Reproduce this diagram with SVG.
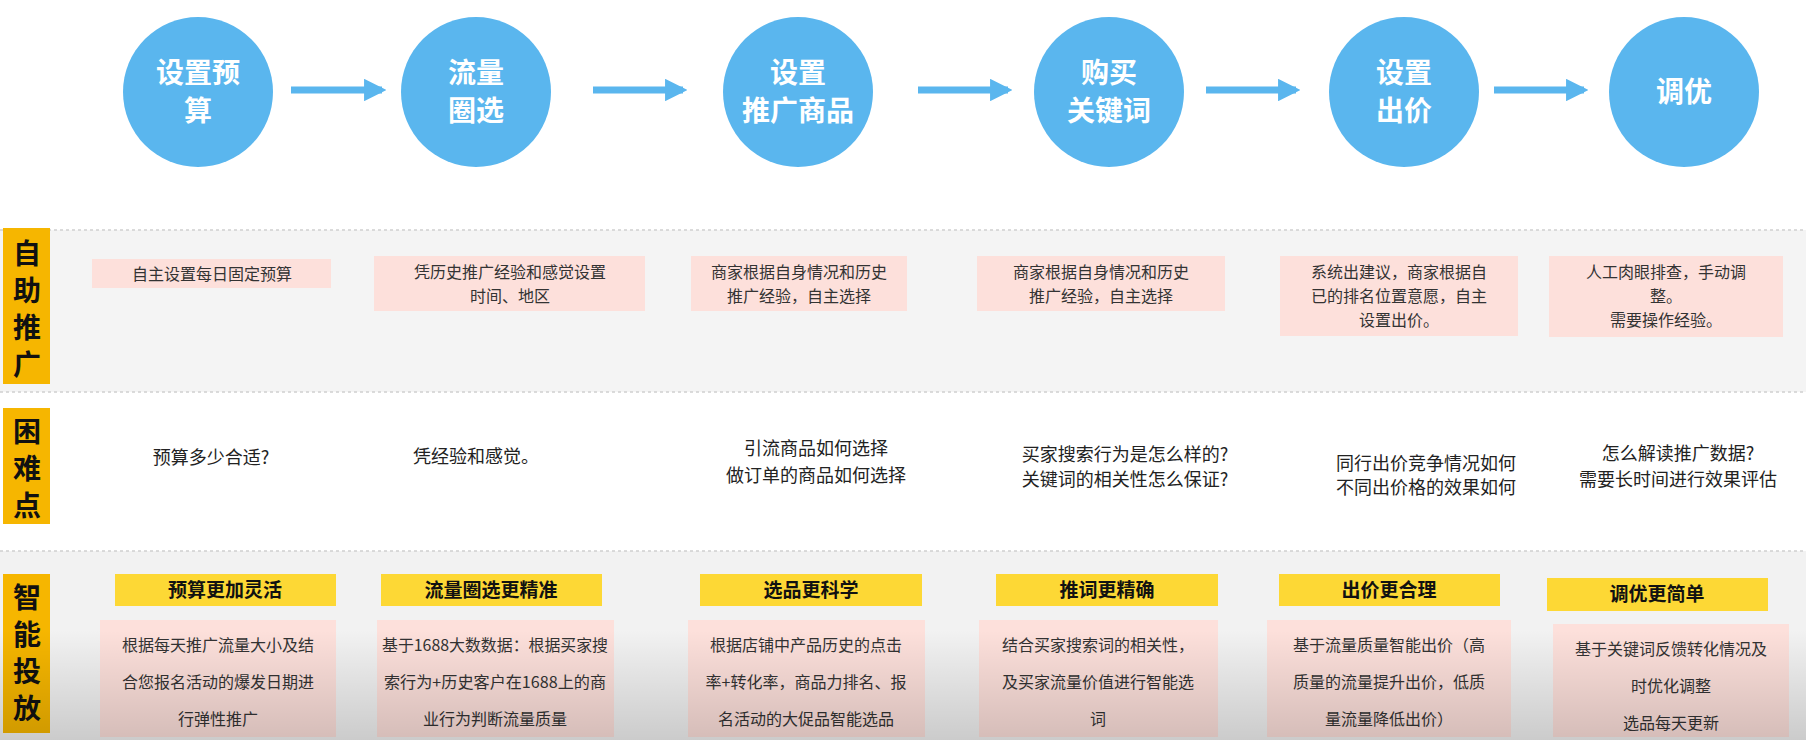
<svg xmlns="http://www.w3.org/2000/svg" width="1806" height="740" viewBox="0 0 1806 740">
<defs>
<marker id="ah" viewBox="0 0 10 10" refX="8" refY="5" markerWidth="3.2" markerHeight="3.2" orient="auto"><path d="M0,0 L10,5 L0,10 Z" fill="#5ab6ee"/></marker>
<linearGradient id="shade" x1="0" y1="0" x2="0" y2="1"><stop offset="0" stop-color="#000" stop-opacity="0"/><stop offset="1" stop-color="#000" stop-opacity="0.16"/></linearGradient>
<style>
text{font-family:"Noto Sans CJK SC","Liberation Sans",sans-serif;text-anchor:middle}
.c{fill:#5ab6ee}.ct{fill:#fff;font-size:28px;font-weight:bold}
.side{fill:#f6b600}.st{font-size:28px;font-weight:bold;fill:#111}
.pk{fill:#fde0db}.pt{font-size:16px;fill:#333}
.q{font-size:18px;fill:#222}
.yl{fill:#fdd835}.yt{font-size:19px;font-weight:bold;fill:#111}
.dash{stroke:#cfcfcf;stroke-width:1.5;stroke-dasharray:3 3}
.ar{stroke:#5ab6ee;stroke-width:7;marker-end:url(#ah)}
</style>
</defs>
<rect width="1806" height="740" fill="#fff"/>
<rect x="0" y="230" width="1806" height="162" fill="#f4f4f4"/>
<rect x="0" y="551" width="1806" height="189" fill="#f2f2f2"/>
<g class="dash"><line x1="0" y1="230" x2="1806" y2="230"/><line x1="0" y1="392" x2="1806" y2="392"/><line x1="0" y1="551" x2="1806" y2="551"/></g>

<g id="connectors">
<line class="ar" x1="291" y1="90" x2="382" y2="90"/>
<line class="ar" x1="593" y1="90" x2="683" y2="90"/>
<line class="ar" x1="918" y1="90" x2="1008" y2="90"/>
<line class="ar" x1="1206" y1="90" x2="1296" y2="90"/>
<line class="ar" x1="1494" y1="90" x2="1584" y2="90"/>
</g>

<g id="s1"><circle class="c" cx="198" cy="92" r="75"/><text class="ct" x="198" y="83">设置预</text><text class="ct" x="198" y="121">算</text></g>
<g id="s2"><circle class="c" cx="476" cy="92" r="75"/><text class="ct" x="476" y="83">流量</text><text class="ct" x="476" y="121">圈选</text></g>
<g id="s3"><circle class="c" cx="798" cy="92" r="75"/><text class="ct" x="798" y="83">设置</text><text class="ct" x="798" y="121">推广商品</text></g>
<g id="s4"><circle class="c" cx="1109" cy="92" r="75"/><text class="ct" x="1109" y="83">购买</text><text class="ct" x="1109" y="121">关键词</text></g>
<g id="s5"><circle class="c" cx="1404" cy="92" r="75"/><text class="ct" x="1404" y="83">设置</text><text class="ct" x="1404" y="121">出价</text></g>
<g id="s6"><circle class="c" cx="1684" cy="92" r="75"/><text class="ct" x="1684" y="102">调优</text></g>

<g id="side1"><rect class="side" x="3" y="228" width="47" height="156"/><text class="st" x="27" y="264">自</text><text class="st" x="27" y="301">助</text><text class="st" x="27" y="338">推</text><text class="st" x="27" y="375">广</text></g>
<g id="side2"><rect class="side" x="3" y="408" width="47" height="116"/><text class="st" x="27" y="442">困</text><text class="st" x="27" y="479">难</text><text class="st" x="27" y="516">点</text></g>
<g id="side3"><rect class="side" x="3" y="574" width="47" height="159"/><text class="st" x="27" y="608">智</text><text class="st" x="27" y="645">能</text><text class="st" x="27" y="682">投</text><text class="st" x="27" y="719">放</text></g>

<g id="r1c1"><rect class="pk" x="92" y="259" width="239" height="29"/><text class="pt" x="212" y="280">自主设置每日固定预算</text></g>
<g id="r1c2"><rect class="pk" x="374" y="256" width="271" height="55"/><text class="pt" x="510" y="278">凭历史推广经验和感觉设置</text><text class="pt" x="510" y="302">时间、地区</text></g>
<g id="r1c3"><rect class="pk" x="691" y="256" width="216" height="55"/><text class="pt" x="799" y="278">商家根据自身情况和历史</text><text class="pt" x="799" y="302">推广经验，自主选择</text></g>
<g id="r1c4"><rect class="pk" x="977" y="256" width="248" height="55"/><text class="pt" x="1101" y="278">商家根据自身情况和历史</text><text class="pt" x="1101" y="302">推广经验，自主选择</text></g>
<g id="r1c5"><rect class="pk" x="1280" y="256" width="238" height="80"/><text class="pt" x="1399" y="278">系统出建议，商家根据自</text><text class="pt" x="1399" y="302">已的排名位置意愿，自主</text><text class="pt" x="1399" y="326">设置出价。</text></g>
<g id="r1c6"><rect class="pk" x="1549" y="256" width="234" height="81"/><text class="pt" x="1666" y="278">人工肉眼排查，手动调</text><text class="pt" x="1666" y="302">整。</text><text class="pt" x="1666" y="326">需要操作经验。</text></g>

<g id="r2c1"><text class="q" x="211" y="464">预算多少合适?</text></g>
<g id="r2c2"><text class="q" x="476" y="463">凭经验和感觉。</text></g>
<g id="r2c3"><text class="q" x="816" y="455">引流商品如何选择</text><text class="q" x="816" y="482">做订单的商品如何选择</text></g>
<g id="r2c4"><text class="q" x="1125" y="461">买家搜索行为是怎么样的?</text><text class="q" x="1125" y="486">关键词的相关性怎么保证?</text></g>
<g id="r2c5"><text class="q" x="1426" y="470">同行出价竞争情况如何</text><text class="q" x="1426" y="494">不同出价格的效果如何</text></g>
<g id="r2c6"><text class="q" x="1678" y="460">怎么解读推广数据?</text><text class="q" x="1678" y="486">需要长时间进行效果评估</text></g>

<g id="r3c1"><rect class="yl" x="115" y="574" width="221" height="32"/><text class="yt" x="225" y="597">预算更加灵活</text><rect class="pk" x="100" y="620" width="236" height="117"/><text class="pt" x="218" y="651">根据每天推广流量大小及结</text><text class="pt" x="218" y="688">合您报名活动的爆发日期进</text><text class="pt" x="218" y="725">行弹性推广</text></g>
<g id="r3c2"><rect class="yl" x="381" y="574" width="221" height="32"/><text class="yt" x="491" y="597">流量圈选更精准</text><rect class="pk" x="377" y="620" width="237" height="117"/><text class="pt" x="495" y="651" textLength="226" lengthAdjust="spacingAndGlyphs">基于1688大数数据：根据买家搜</text><text class="pt" x="495" y="688" textLength="222" lengthAdjust="spacingAndGlyphs">索行为+历史客户在1688上的商</text><text class="pt" x="495" y="725">业行为判断流量质量</text></g>
<g id="r3c3"><rect class="yl" x="700" y="574" width="222" height="32"/><text class="yt" x="811" y="597">选品更科学</text><rect class="pk" x="688" y="620" width="237" height="117"/><text class="pt" x="806" y="651">根据店铺中产品历史的点击</text><text class="pt" x="806" y="688">率+转化率，商品力排名、报</text><text class="pt" x="806" y="725">名活动的大促品智能选品</text></g>
<g id="r3c4"><rect class="yl" x="996" y="574" width="222" height="32"/><text class="yt" x="1107" y="597">推词更精确</text><rect class="pk" x="979" y="620" width="239" height="117"/><text class="pt" x="1098" y="651">结合买家搜索词的相关性，</text><text class="pt" x="1098" y="688">及买家流量价值进行智能选</text><text class="pt" x="1098" y="725">词</text></g>
<g id="r3c5"><rect class="yl" x="1279" y="574" width="221" height="32"/><text class="yt" x="1389" y="597">出价更合理</text><rect class="pk" x="1267" y="620" width="244" height="117"/><text class="pt" x="1389" y="651">基于流量质量智能出价（高</text><text class="pt" x="1389" y="688">质量的流量提升出价，低质</text><text class="pt" x="1389" y="725">量流量降低出价）</text></g>
<g id="r3c6"><rect class="yl" x="1547" y="578" width="221" height="33"/><text class="yt" x="1657" y="601">调优更简单</text><rect class="pk" x="1553" y="624" width="236" height="113"/><text class="pt" x="1671" y="655">基于关键词反馈转化情况及</text><text class="pt" x="1671" y="692">时优化调整</text><text class="pt" x="1671" y="729">选品每天更新</text></g>
<rect x="0" y="630" width="1806" height="110" fill="url(#shade)"/>
</svg>
